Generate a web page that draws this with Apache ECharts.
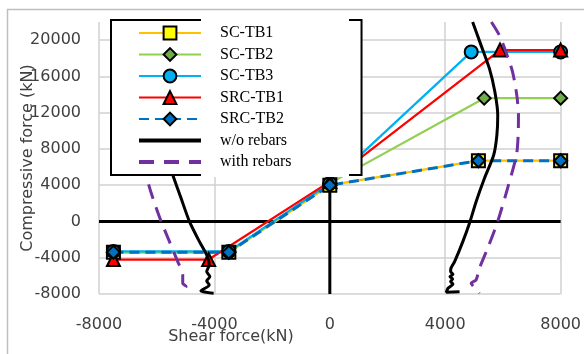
<!DOCTYPE html>
<html>
<head>
<meta charset="utf-8">
<script src="https://cdn.jsdelivr.net/npm/echarts/dist/echarts.min.js"></script>
<style>
  html, body { margin: 0; padding: 0; background: #fff; }
  #interaction { width: 584px; height: 354px; }
</style>
</head>
<body>
<div id="interaction"></div>
<script>
// axis ticks
const xTicks = [-8000, -4000, 0, 4000, 8000];
const yTicks = [-8000, -4000, 0, 4000, 8000, 12000, 16000, 20000];

// test series (shear, compressive)
const scTb1X = [-7500, -3500, 0, 5150, 8000];
const scTb1Y = [-3400, -3400, 4000, 6700, 6700];
const scTb2X = [-7500, -3500, 0, 5350, 8000];
const scTb2Y = [-3400, -3400, 4200, 13600, 13600];
const scTb3X = [-7500, -3500, 0, 4900, 8000];
const scTb3Y = [-3300, -3300, 4200, 18700, 18700];
const srcTb1X = [-7500, -4200, 0, 5900, 8000];
const srcTb1Y = [-4200, -4200, 4400, 18900, 18900];
const srcTb2X = [-7500, -3500, 0, 5150, 8000];
const srcTb2Y = [-3400, -3400, 4000, 6700, 6700];

// w/o rebars curve, right and left branch
const woRightX = [4950, 5240, 5530, 5720, 5820, 5790, 5680, 5360, 5070, 4840, 4610, 4325, 4200, 4187, 4267, 4164, 4256, 4187, 4267, 4095, 4037, 4497];
const woRightY = [22000, 19450, 16880, 14300, 11700, 9530, 7330, 4760, 2180, -200, -2220, -4420, -5150, -5530, -5820, -6080, -6340, -6630, -6920, -7360, -7800, -7740];
const woLeftX = [-4950, -5240, -5530, -5720, -5820, -5790, -5680, -5443, -5155, -4863, -4519, -4267, -4180, -4267, -4157, -4267, -4180, -4469, -4027];
const woLeftY = [22000, 19450, 16880, 14300, 11700, 9530, 7330, 5120, 2556, -22, -2226, -3690, -4793, -5530, -6080, -6560, -7000, -7660, -7910];

// with rebars curve
const wRightX = [5600, 5873, 6102, 6333, 6480, 6538, 6528, 6469, 6160, 5816, 5471, 5186, 5069, 4897, 5013, 5186];
const wRightY = [22000, 20551, 18711, 16507, 13939, 11735, 9532, 7328, 3658, -22, -2953, -5157, -6446, -6810, -7290, -7910];
const wLeftX = [-5600, -5870, -6100, -6330, -6480, -6540, -6530, -6470, -6303, -6131, -5843, -5557, -5271, -5098, -5098, -4983, -5212];
const wLeftY = [22000, 20550, 18710, 16500, 13940, 11730, 9530, 7330, 4386, 2556, -22, -2226, -4430, -5895, -6810, -7180, -7910];

function pairs(xs, ys) {
  return xs.map((x, i) => [x, ys[i]]);
}

let myChart = echarts.init(document.getElementById('interaction'));

const sans = 'DejaVu Sans';

function testSeries(name, xs, ys, color, symbol, fill, lineType, width) {
  return {
    name: name,
    type: 'line',
    data: pairs(xs, ys),
    symbol: symbol,
    symbolSize: 13,
    lineStyle: { color: color, width: width, type: lineType },
    itemStyle: { color: fill, borderColor: '#000', borderWidth: 2 },
    z: 2
  };
}

function curveSeries(name, data, color, lineType) {
  return {
    name: name,
    type: 'line',
    data: data,
    symbol: 'none',
    smooth: 0.25,
    lineStyle: { color: color, width: 3, type: lineType },
    itemStyle: { color: color },
    z: 3
  };
}

// legend entries, curves have no marker
const noMarker = { color: 'transparent', borderColor: 'transparent', opacity: 0 };

let option = {
  animation: false,
  backgroundColor: '#fff',
  grid: { left: 99, right: 21, top: 22, bottom: 60 },
  xAxis: {
    type: 'value',
    min: -8000,
    max: 8000,
    interval: 4000,
    axisLine: { show: false },
    axisTick: { show: false },
    axisLabel: {
      color: '#404040',
      fontFamily: sans,
      fontSize: 16,
      margin: 23,
      formatter: v => String(v)
    },
    splitLine: { show: true, lineStyle: { color: '#d0d0d0', width: 1.5 } }
  },
  yAxis: {
    type: 'value',
    min: -8000,
    max: 22000,
    interval: 4000,
    axisLine: { show: false },
    axisTick: { show: false },
    axisLabel: {
      color: '#404040',
      fontFamily: sans,
      fontSize: 16,
      margin: 18,
      formatter: v => (yTicks.indexOf(v) >= 0 ? String(v) : '')
    },
    splitLine: { show: true, showMaxLine: false, lineStyle: { color: '#d0d0d0', width: 1.5 } }
  },
  legend: {
    data: [
      'SC-TB1', 'SC-TB2', 'SC-TB3', 'SRC-TB1', 'SRC-TB2',
      { name: 'w/o rebars', itemStyle: noMarker, lineStyle: { width: 4 } },
      { name: 'with rebars', itemStyle: noMarker, lineStyle: { width: 4, type: [15, 10] } }
    ],
    orient: 'vertical',
    left: 111,
    top: 20,
    z: 10,
    padding: [5, 70, 5, 26],
    itemWidth: 62,
    itemHeight: 16,
    itemGap: 5.5,
    backgroundColor: '#fff',
    borderColor: '#000',
    borderWidth: 2,
    borderRadius: 0,
    textStyle: {
      fontFamily: 'Liberation Serif',
      fontSize: 16,
      color: '#000',
      padding: [0, 0, 0, 14]
    }
  },
  graphic: [
    {
      type: 'rect',
      shape: { x: 7.5, y: 9.5, width: 620, height: 400 },
      style: { fill: 'none', stroke: '#bfbfbf', lineWidth: 1.5 },
      silent: true,
      z: -10
    },
    {
      type: 'rect',
      shape: { x: 201, y: 18, width: 148, height: 4.5 },
      style: { fill: '#fff' },
      silent: true,
      z: 100
    },
    {
      type: 'rect',
      shape: { x: 201, y: 173, width: 148, height: 4 },
      style: { fill: '#fff' },
      silent: true,
      z: 100
    },
    {
      type: 'text',
      x: 28,
      y: 158,
      rotation: Math.PI / 2,
      style: {
        text: 'Compressive force (kN)',
        font: '16px "DejaVu Sans"',
        fill: '#404040',
        textAlign: 'center',
        textVerticalAlign: 'middle'
      },
      z: 100
    },
    {
      type: 'text',
      x: 231,
      y: 337,
      style: {
        text: 'Shear force(kN)',
        font: '16px "DejaVu Sans"',
        fill: '#404040',
        textAlign: 'center',
        textVerticalAlign: 'middle'
      },
      z: 100
    }
  ],
  series: [
    // zero lines
    {
      name: 'zeroH',
      type: 'line',
      data: [[xTicks[0], 0], [xTicks[xTicks.length - 1], 0]],
      symbol: 'none',
      silent: true,
      lineStyle: { color: '#000', width: 3 },
      z: 1
    },
    {
      name: 'zeroV',
      type: 'line',
      data: [[0, -8000], [0, 22000]],
      symbol: 'none',
      silent: true,
      lineStyle: { color: '#000', width: 3 },
      z: 1
    },
    testSeries('SC-TB1', scTb1X, scTb1Y, '#FFC000', 'rect', '#FFFF00', 'solid', 2.25),
    testSeries('SC-TB2', scTb2X, scTb2Y, '#92D050', 'diamond', '#70AD47', 'solid', 2.25),
    testSeries('SC-TB3', scTb3X, scTb3Y, '#00B0F0', 'circle', '#00B0F0', 'solid', 2.25),
    testSeries('SRC-TB1', srcTb1X, srcTb1Y, '#FF0000', 'triangle', '#FF0000', 'solid', 2.25),
    testSeries('SRC-TB2', srcTb2X, srcTb2Y, '#0070C0', 'diamond', '#0070C0', [10, 6], 3),
    curveSeries('w/o rebars', pairs(woRightX, woRightY), '#000', 'solid'),
    curveSeries('w/o rebars', pairs(woLeftX, woLeftY), '#000', 'solid'),
    curveSeries('with rebars', pairs(wRightX, wRightY), '#7030A0', [15, 9]),
    curveSeries('with rebars', pairs(wLeftX, wLeftY), '#7030A0', [15, 9])
  ]
};

myChart.setOption(option);
</script>
</body>
</html>
